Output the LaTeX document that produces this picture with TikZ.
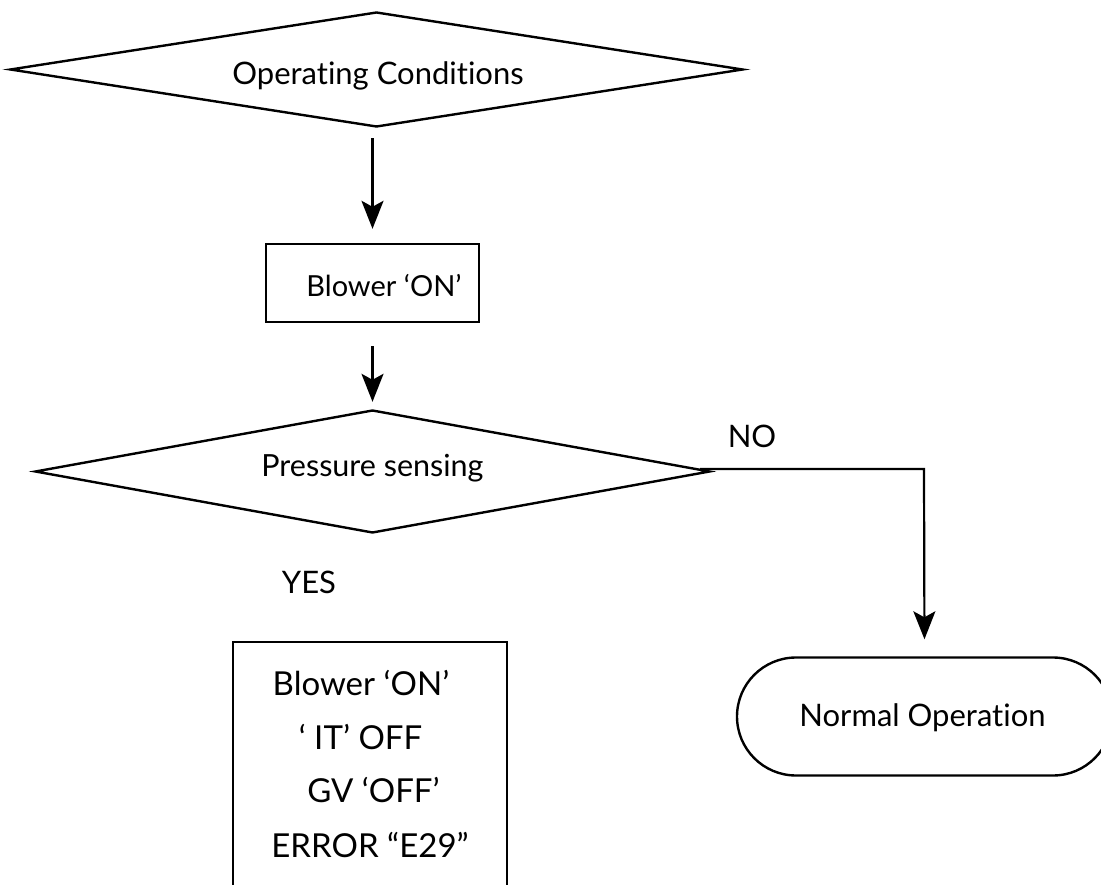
\documentclass[tikz,border=0pt]{standalone}
\usepackage{fontspec}
\setmainfont{Lato}[Ligatures={NoCommon}]
\usetikzlibrary{shapes.geometric,shapes.misc,arrows.meta}
\begin{document}
\begin{tikzpicture}[x=1pt,y=-1pt,
  line width=2.4pt,
  every node/.style={inner sep=0pt},
  txt/.style={anchor=base, font=\fontsize{31}{36}\selectfont},
  smalltxt/.style={anchor=base, font=\fontsize{29}{34}\selectfont},
  bigtxt/.style={anchor=base, font=\fontsize{33}{38}\selectfont},
  decision/.style={draw, diamond, line width=2.4pt},
  procbox/.style={draw, rectangle, line width=2.4pt},
  term/.style={draw, rounded rectangle, line width=2.4pt},
  flow/.style={-{Stealth[length=28pt,width=22pt,inset=6pt]}, line width=2.2pt}
]
\useasboundingbox (0,0) rectangle (1101,885);
\clip (0,0) rectangle (1101,885);

\node[decision, minimum width=733pt, minimum height=115pt] (cond) at (376.5,69.5) {};
\node[txt] (condtxt) at (378,85) {Operating Conditions};

\node[procbox, minimum width=213pt, minimum height=78pt] (blower) at (372.5,283) {};
\node[smalltxt] (blowertxt) at (384,297) {Blower ‘ON’};

\node[decision, minimum width=675pt, minimum height=123pt] (press) at (372.5,471.5) {};
\node[txt, font=\fontsize{30.5}{36}\selectfont] (presstxt) at (372.5,476) {Pressure sensing};

\node[txt] (no) at (752,447) {NO};
\node[txt] (yes) at (309,593) {YES};

\node[procbox, minimum width=274pt, minimum height=300pt, anchor=north] (err) at (370,641) {};
\node[bigtxt] (l1) at (361,695) {Blower ‘ON’};
\node[bigtxt] (l2) at (360.5,749) {‘ IT’ OFF};
\node[bigtxt] (l3) at (373.5,802) {GV ‘OFF’};
\node[bigtxt] (l4) at (370,857) {ERROR “E29”};

\node[term, minimum width=375pt, minimum height=118pt] (normal) at (924.5,716.5) {};
\node[txt] (normaltxt) at (922.5,726) {Normal Operation};

\coordinate (nostart) at (700,469);
\coordinate (nobend) at (924,469);

\draw[flow, shorten <=10pt, shorten >=14pt] (blower.north |- cond.south) -- (blower.north);
\draw[flow, shorten <=23pt, shorten >=7pt] (blower.south) -- (press.north);
\draw[flow, shorten >=17pt] (nostart) -- (nobend) -- (normal.north);
\end{tikzpicture}
\end{document}
